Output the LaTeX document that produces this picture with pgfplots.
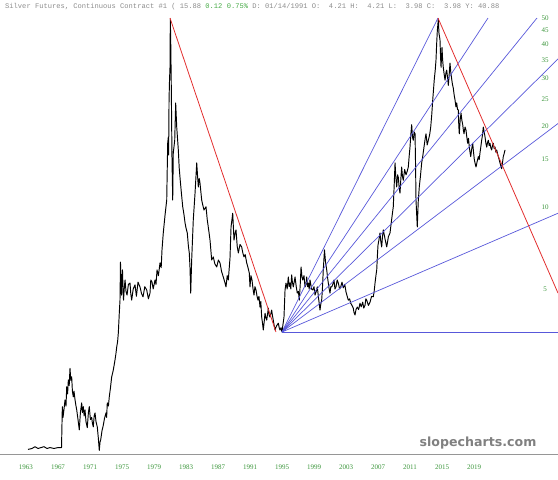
\documentclass[border=0pt]{standalone}
\usepackage{pgfplots}
\pgfplotsset{compat=1.18}
\usepackage{fontspec}
\setmainfont{Liberation Serif}
\newfontfamily\monof{Liberation Mono}
\newfontfamily\wmfont{DejaVu Sans}
\definecolor{redline}{RGB}{226,46,46}
\definecolor{blueline}{RGB}{88,88,218}
\definecolor{labgreen}{RGB}{60,150,60}
\definecolor{valgreen}{RGB}{70,170,70}
\definecolor{titlegray}{RGB}{140,140,140}
\definecolor{wmgray}{RGB}{128,128,128}
\definecolor{axisgray}{RGB}{150,150,150}
\begin{document}
\begin{tikzpicture}
\path[use as bounding box] (0pt,-25pt) rectangle (558pt,455pt);
\begin{axis}[
  at={(0pt,0pt)}, anchor=south west,
  scale only axis, width=558pt, height=438pt,
  xmin=1959.75, xmax=2029.5,
  ymode=log, ymin=1.2205, ymax=50.43,
  axis x line*=bottom, axis y line*=right,
  x axis line style={draw=axisgray, line width=1pt, -},
  y axis line style={draw=none},
  xtick={1963,1967,1971,1975,1979,1983,1987,1991,1995,1999,2003,2007,2011,2015,2019},
  xticklabels={1963,1967,1971,1975,1979,1983,1987,1991,1995,1999,2003,2007,2011,2015,2019},
  ytick={5,10,15,20,25,30,35,40,45,50},
  yticklabels={5,10,15,20,25,30,35,40,45,50},
  major tick length=0pt, minor tick num=0, yminorticks=false,
  tick label style={font=\fontsize{7}{8}\selectfont, text=labgreen},
  xticklabel style={yshift=-6pt},
  yticklabel style={anchor=center, xshift=-13pt},
  clip=false,
]
% price series
\addplot[black, line width=0.95pt, line join=round] coordinates {
(1963.25,1.28)(1963.75,1.29)(1964.13,1.31)(1964.5,1.29)(1964.88,1.30)(1965.25,1.31)(1965.63,1.29)(1966.0,1.30)(1966.5,1.29)(1967.0,1.30)(1967.44,1.30)
(1967.54,1.84)(1967.63,1.68)(1967.75,1.80)(1967.88,1.95)(1968.0,1.85)(1968.09,2.18)(1968.2,2.05)(1968.29,2.31)(1968.4,2.2)(1968.5,2.55)(1968.6,2.3)(1968.71,2.37)(1968.8,2.1)(1968.91,2.00)(1969.0,2.1)(1969.13,1.95)(1969.25,1.85)(1969.34,1.79)(1969.5,1.65)(1969.66,1.51)(1969.8,1.75)(1969.96,1.90)(1970.05,1.75)(1970.16,1.84)(1970.27,1.70)(1970.38,1.79)(1970.5,1.62)(1970.66,1.54)(1970.8,1.75)(1970.91,1.84)(1971.05,1.65)(1971.21,1.68)(1971.3,1.60)(1971.41,1.55)(1971.52,1.70)(1971.63,1.745)(1971.75,1.62)(1971.91,1.55)(1972.05,1.40)(1972.16,1.27)(1972.25,1.36)(1972.34,1.39)(1972.5,1.50)(1972.66,1.57)(1972.8,1.66)(1973.0,1.745)(1973.08,1.68)(1973.16,1.90)(1973.3,1.85)(1973.41,2.00)(1973.55,2.15)(1973.71,2.37)(1973.9,2.50)(1974.13,2.74)(1974.25,2.90)(1974.34,3.06)(1974.45,3.20)(1974.54,3.44)(1974.66,4.07)(1974.75,4.55)
(1974.81,6.29)(1974.88,5.2)(1974.94,4.75)(1975.0,5.5)(1975.06,5.88)(1975.13,5.0)(1975.19,4.55)(1975.3,5.1)(1975.38,5.40)(1975.5,4.9)(1975.63,4.75)(1975.8,5.2)(1976.0,5.26)(1976.1,4.8)(1976.21,4.55)(1976.4,5.0)(1976.63,5.18)(1976.8,4.7)(1977.0,5.3)(1977.25,5.09)(1977.45,4.8)(1977.63,4.68)(1977.85,5.1)(1978.09,4.96)(1978.3,4.6)(1978.5,4.83)(1978.6,5.4)(1978.75,5.31)(1978.9,5.0)(1979.13,5.40)(1979.25,5.2)(1979.38,5.88)(1979.55,5.6)(1979.75,6.24)(1979.9,6.0)(1980.0,6.97)(1980.16,8.05)(1980.38,9.37)(1980.59,10.65)(1980.71,17.25)(1980.79,18.2)(1980.83,15.6)(1980.88,24.9)(1980.94,29.5)(1981.0,32.9)(1981.04,49.6)(1981.09,41.5)(1981.16,28.2)(1981.25,15.0)(1981.34,10.65)(1981.41,15.9)(1981.59,17.7)(1981.71,24.3)(1981.84,19.8)(1982.04,16.3)(1982.15,14.0)(1982.25,12.9)(1982.4,11.5)(1982.59,10.06)(1982.75,9.4)(1982.88,8.77)(1983.0,8.4)(1983.16,8.05)(1983.3,7.2)(1983.41,6.79)(1983.5,6.0)(1983.59,4.83)(1983.71,6.40)(1983.91,8.99)(1984.13,11.3)(1984.34,14.6)(1984.45,13.0)(1984.54,11.9)(1984.65,12.8)(1984.75,12.3)(1984.96,10.65)(1985.1,10.2)(1985.25,9.78)(1985.5,10.06)(1985.66,8.99)(1985.85,8.2)(1986.0,7.58)(1986.1,7.0)(1986.21,6.40)(1986.41,6.57)(1986.6,6.2)(1986.84,6.03)(1987.05,6.4)(1987.25,6.24)(1987.45,5.8)(1987.66,5.54)(1987.85,5.3)(1988.0,5.09)(1988.15,5.6)(1988.29,5.40)(1988.5,6.5)(1988.63,8.47)(1988.84,9.52)(1989.0,7.58)(1989.12,8.0)(1989.25,8.26)(1989.4,7.2)(1989.54,6.79)(1989.75,7.3)(1989.96,7.15)(1990.1,6.8)(1990.25,6.57)(1990.4,6.7)(1990.59,6.24)(1990.75,6.0)(1990.91,5.73)(1991.0,5.09)
(1991.12,5.6)(1991.25,5.40)(1991.38,5.0)(1991.5,4.75)(1991.62,5.1)(1991.75,4.96)(1991.88,4.7)(1992.0,4.55)(1992.12,4.7)(1992.25,4.29)(1992.35,4.5)(1992.46,3.94)(1992.56,3.75)(1992.66,3.53)(1992.78,3.80)(1992.88,4.07)(1993.0,3.90)(1993.09,3.84)(1993.2,4.05)(1993.29,4.25)(1993.4,4.0)(1993.5,3.94)(1993.6,4.05)(1993.71,4.18)(1993.8,4.0)(1993.91,3.84)(1994.0,3.70)(1994.13,3.53)(1994.3,3.65)(1994.54,3.74)(1994.65,3.60)(1994.75,3.53)(1994.88,3.60)(1995.0,3.47)(1995.12,3.70)(1995.25,3.94)(1995.38,4.96)(1995.5,5.26)(1995.65,5.0)(1995.79,5.54)(1995.9,5.1)(1996.0,5.26)(1996.1,5.0)(1996.21,5.64)(1996.3,5.3)(1996.41,5.09)(1996.52,5.3)(1996.63,5.54)(1996.78,5.1)(1996.91,4.83)(1997.05,4.9)(1997.16,4.55)(1997.28,5.2)(1997.38,6.03)(1997.48,5.6)(1997.59,5.40)(1997.75,5.6)(1997.88,5.09)(1998.0,5.2)(1998.09,5.54)(1998.2,5.1)(1998.29,5.26)(1998.4,5.0)(1998.5,5.40)(1998.7,5.0)(1998.84,4.96)(1999.0,5.1)(1999.13,4.75)(1999.28,4.9)(1999.41,5.09)(1999.58,4.6)(1999.75,4.18)(1999.85,4.4)(1999.96,4.55)(2000.05,5.0)(2000.16,5.88)(2000.31,6.97)(2000.44,6.29)(2000.59,5.88)(2000.7,5.5)(2000.79,5.26)(2000.9,5.0)(2001.0,4.83)(2001.1,5.1)(2001.21,5.09)(2001.35,5.2)(2001.5,5.40)(2001.62,5.0)(2001.75,5.09)(2001.9,5.4)(2002.04,5.26)(2002.2,5.0)(2002.34,5.09)(2002.5,5.3)(2002.66,5.05)(2002.85,5.2)(2003.0,4.88)(2003.15,4.7)(2003.29,4.55)(2003.45,4.6)(2003.59,4.43)(2003.75,4.35)(2003.91,4.25)(2004.0,4.1)(2004.13,4.01)(2004.25,4.2)(2004.41,4.29)(2004.58,4.2)(2004.75,4.43)(2004.9,4.3)(2005.09,4.47)(2005.22,4.25)(2005.38,4.36)(2005.48,4.6)(2005.59,4.55)(2005.8,4.35)(2006.0,4.47)(2006.2,4.7)(2006.41,4.68)(2006.52,4.9)(2006.63,5.26)(2006.74,5.6)(2006.84,5.88)(2006.92,6.6)(2007.0,7.26)(2007.12,7.6)(2007.25,8.05)(2007.35,7.5)(2007.46,7.15)(2007.56,7.8)(2007.66,8.26)(2007.9,7.6)(2008.09,7.15)(2008.3,7.8)(2008.5,8.05)(2008.7,9.0)(2008.91,10.06)(2009.02,12.0)(2009.13,14.6)(2009.24,12.8)(2009.34,11.9)(2009.45,13.2)(2009.54,12.9)(2009.65,11.8)(2009.75,11.3)(2009.86,12.8)(2009.96,14.1)(2010.06,13.0)(2010.16,12.6)(2010.33,13.8)(2010.5,13.2)(2010.65,13.6)(2010.79,14.1)(2010.9,15.5)(2011.0,16.7)(2011.1,18.5)(2011.21,20.2)(2011.31,18.2)(2011.41,17.7)(2011.52,19.0)(2011.63,18.7)(2011.7,14.0)(2011.75,10.65)(2011.91,8.47)(2012.03,10.5)(2012.16,11.9)(2012.3,13.0)(2012.46,14.6)(2012.6,15.5)(2012.75,16.7)(2012.88,17.8)(2013.0,18.7)(2013.15,17.0)(2013.29,17.7)(2013.45,18.5)(2013.59,19.8)(2013.72,22.0)(2013.84,24.9)(2014.04,29.8)(2014.15,32.0)(2014.25,35.0)(2014.33,40.0)(2014.41,44.6)(2014.54,49.6)(2014.62,44.0)(2014.75,41.5)(2014.82,36.0)(2014.88,32.9)(2015.0,39.0)(2015.08,35.0)(2015.16,32.9)(2015.27,31.0)(2015.38,29.5)(2015.5,31.5)(2015.59,32.1)(2015.7,30.0)(2015.79,28.2)(2015.9,31.0)(2016.0,34.1)(2016.1,31.5)(2016.21,29.8)(2016.3,28.5)(2016.41,27.6)(2016.52,26.0)(2016.63,24.9)(2016.74,23.5)(2016.84,24.3)(2016.94,23.0)(2017.04,22.9)(2017.1,20.0)(2017.16,18.7)(2017.27,21.0)(2017.38,22.3)(2017.48,21.0)(2017.59,20.2)(2017.67,19.3)(2017.75,18.7)(2017.88,19.8)(2018.0,19.3)(2018.1,18.2)(2018.21,17.25)(2018.31,18.0)(2018.41,16.7)(2018.5,16.0)(2018.59,15.4)(2018.72,16.5)(2018.84,17.25)(2018.94,16.0)(2019.04,15.0)(2019.15,14.5)(2019.25,14.1)(2019.4,14.8)(2019.54,15.4)(2019.65,15.0)(2019.75,15.9)(2019.86,16.8)(2019.96,17.7)(2020.06,18.5)(2020.16,19.8)(2020.27,19.0)(2020.38,18.2)(2020.48,17.3)(2020.59,16.7)(2020.7,17.4)(2020.79,17.7)(2020.9,16.9)(2021.0,17.25)(2021.1,16.6)(2021.21,16.3)(2021.31,16.9)(2021.41,17.25)(2021.52,16.5)(2021.63,16.7)(2021.73,16.0)(2021.84,16.3)(2021.94,15.8)(2022.04,15.4)(2022.15,15.0)(2022.25,14.6)(2022.36,14.2)(2022.46,13.9)(2022.56,14.6)(2022.66,15.4)(2022.77,15.8)(2022.88,16.3)
};
% fan lines
\addplot[blueline, line width=0.7pt] coordinates {(1995.0,3.47)(2014.5,50)};
\addplot[blueline, line width=0.7pt] coordinates {(1995.0,3.47)(2020.75,50)};
\addplot[blueline, line width=0.7pt] coordinates {(1995.0,3.47)(2026.875,50)};
\addplot[blueline, line width=0.7pt] coordinates {(1995.0,3.47)(2029.5,35.3)};
\addplot[blueline, line width=0.7pt] coordinates {(1995.0,3.47)(2029.5,20.4)};
\addplot[blueline, line width=0.7pt] coordinates {(1995.0,3.47)(2029.5,9.52)};
\addplot[blueline, line width=0.7pt] coordinates {(1995.0,3.47)(2029.5,3.47)};
% red trend lines
\addplot[redline, line width=0.8pt] coordinates {(1981.0,50.0)(1994.25,3.47)};
\addplot[redline, line width=0.8pt] coordinates {(2014.5,50.0)(2029.5,4.83)};
\end{axis}
\node[anchor=west, inner sep=0pt, font=\monof\fontsize{7.1}{8}\selectfont, text=titlegray] at (5pt,448.5pt)
  {Silver Futures, Continuous Contract \#1 ( 15.88 \textcolor{valgreen}{0.12 0.75\%} D: 01/14/1991 O:~~4.21 H:~~4.21 L:~~3.98 C:~~3.98 Y: 40.88};
\node[inner sep=0pt, font=\wmfont\bfseries\fontsize{12.6}{14}\selectfont, text=wmgray] at (478pt,12pt) {slopecharts.com};
\end{tikzpicture}
\end{document}
